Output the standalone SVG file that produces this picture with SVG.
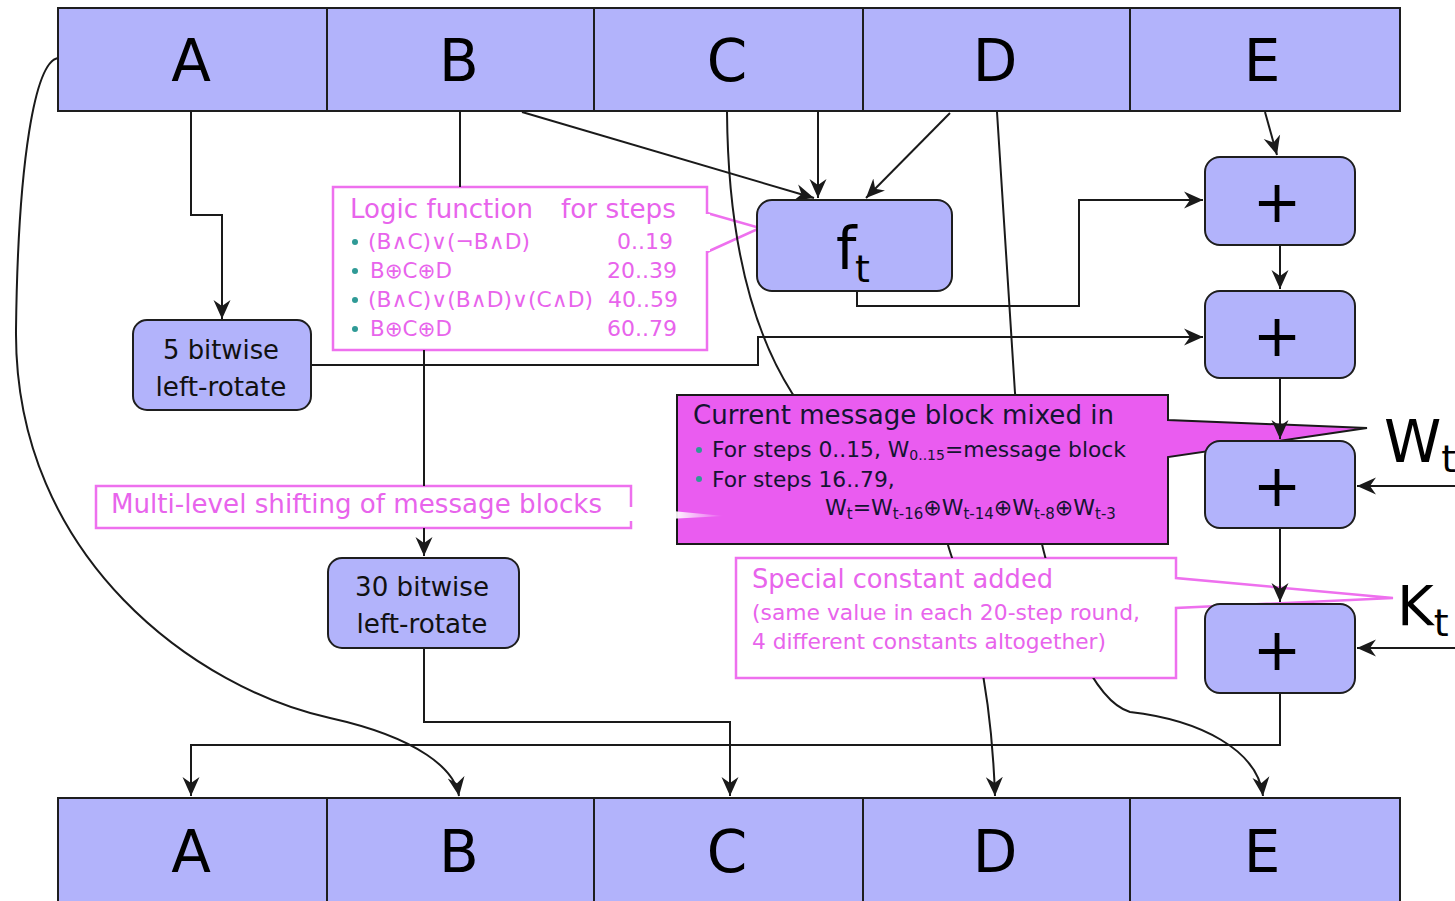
<svg xmlns="http://www.w3.org/2000/svg" width="1455" height="901" viewBox="0 0 1455 901">
<style>
.cell{fill:#b2b3fb;stroke:#1e1e1e;stroke-width:2}
.box{fill:#b2b3fb;stroke:#1e1e1e;stroke-width:2}
.big{font-family:"DejaVu Sans",Verdana,sans-serif;font-size:58px;fill:#000;text-anchor:middle}
.lbl{font-family:"DejaVu Sans",Verdana,sans-serif;font-size:26px;fill:#111;text-anchor:middle}
.mg{font-family:"DejaVu Sans",Verdana,sans-serif;fill:#e864ec}
.dk{font-family:"DejaVu Sans",Verdana,sans-serif;fill:#141432}
.call{fill:#fff;stroke:#ee70ee;stroke-width:2.5}
.conn{fill:none;stroke:#1a1a1a;stroke-width:2}
.dot{fill:#2f9a96}
</style>
<defs>
<marker id="ah" markerUnits="userSpaceOnUse" markerWidth="19" markerHeight="18" refX="19" refY="9" orient="auto">
<path d="M0,0.5 L19,9 L0,17.5 L6,9 Z" fill="#1a1a1a"/>
</marker>
<mask id="hide" maskUnits="userSpaceOnUse" x="0" y="0" width="1455" height="901">
<rect x="0" y="0" width="1455" height="901" fill="#fff"/>
<rect x="333" y="187" width="374" height="163" fill="#000"/>
<rect x="96" y="486" width="535" height="42" fill="#000"/>
<rect x="677" y="395" width="491" height="149" fill="#000"/>
<rect x="736" y="558" width="440" height="120" fill="#000"/>
</mask>
<linearGradient id="fade" x1="631" y1="0" x2="724" y2="0" gradientUnits="userSpaceOnUse">
<stop offset="0" stop-color="#fff" stop-opacity="1"/>
<stop offset="0.5" stop-color="#fff" stop-opacity="0.9"/>
<stop offset="1" stop-color="#fff" stop-opacity="0"/>
</linearGradient>
</defs>

<g id="top-register">
<g id="top-A"><rect class="cell" x="58" y="8" width="269" height="103"/><text class="big" x="191" y="81">A</text></g>
<g id="top-B"><rect class="cell" x="327" y="8" width="267" height="103"/><text class="big" x="459" y="81">B</text></g>
<g id="top-C"><rect class="cell" x="594" y="8" width="269" height="103"/><text class="big" x="727" y="81">C</text></g>
<g id="top-D"><rect class="cell" x="863" y="8" width="267" height="103"/><text class="big" x="995" y="81">D</text></g>
<g id="top-E"><rect class="cell" x="1130" y="8" width="270" height="103"/><text class="big" x="1262" y="81">E</text></g>
</g>
<g id="bottom-register">
<g id="bot-A"><rect class="cell" x="58" y="798" width="269" height="110"/><text class="big" x="191" y="872">A</text></g>
<g id="bot-B"><rect class="cell" x="327" y="798" width="267" height="110"/><text class="big" x="459" y="872">B</text></g>
<g id="bot-C"><rect class="cell" x="594" y="798" width="269" height="110"/><text class="big" x="727" y="872">C</text></g>
<g id="bot-D"><rect class="cell" x="863" y="798" width="267" height="110"/><text class="big" x="995" y="872">D</text></g>
<g id="bot-E"><rect class="cell" x="1130" y="798" width="270" height="110"/><text class="big" x="1262" y="872">E</text></g>
</g>

<g id="logic-callout">
<path class="call" d="M333,187 H707 V350 H333 Z"/>
<path class="call" d="M707,213 L760,228 L707,252" style="fill:none"/>
<rect x="704" y="214" width="6" height="37" fill="#fff"/>
<text class="mg" x="350" y="218" font-size="26" textLength="183" lengthAdjust="spacingAndGlyphs">Logic function</text>
<text class="mg" x="561" y="218" font-size="26" textLength="115" lengthAdjust="spacingAndGlyphs">for steps</text>
<circle class="dot" cx="355" cy="242" r="3"/>
<circle class="dot" cx="355" cy="271" r="3"/>
<circle class="dot" cx="355" cy="300" r="3"/>
<circle class="dot" cx="355" cy="329" r="3"/>
<text class="mg" x="368" y="249" font-size="21" textLength="162" lengthAdjust="spacingAndGlyphs">(B∧C)∨(¬B∧D)</text>
<text class="mg" x="370" y="278" font-size="21" textLength="82" lengthAdjust="spacingAndGlyphs">B⊕C⊕D</text>
<text class="mg" x="368" y="307" font-size="21" textLength="225" lengthAdjust="spacingAndGlyphs">(B∧C)∨(B∧D)∨(C∧D)</text>
<text class="mg" x="370" y="336" font-size="21" textLength="82" lengthAdjust="spacingAndGlyphs">B⊕C⊕D</text>
<text class="mg" x="673" y="249" font-size="22" text-anchor="end">0..19</text>
<text class="mg" x="677" y="278" font-size="22" text-anchor="end">20..39</text>
<text class="mg" x="678" y="307" font-size="22" text-anchor="end">40..59</text>
<text class="mg" x="677" y="336" font-size="22" text-anchor="end">60..79</text>
</g>

<g id="multi-callout">
<path class="call" d="M631,507 V486 H96 V528 H631 V521"/>
<text class="mg" x="111" y="513" font-size="26" textLength="491" lengthAdjust="spacingAndGlyphs">Multi-level shifting of message blocks</text>
</g>

<g id="message-callout">
<path d="M677,395 H1168 V420 L1367,428 L1168,457 V544 H677 Z" fill="#ea5cf0" stroke="#1a1a1a" stroke-width="2"/>
<text class="dk" x="693" y="424" font-size="26" textLength="421" lengthAdjust="spacingAndGlyphs">Current message block mixed in</text>
<circle class="dot" cx="699" cy="450" r="3"/>
<circle class="dot" cx="699" cy="479" r="3"/>
<text class="dk" x="712" y="457" font-size="21.8">For steps 0..15, W<tspan font-size="14" dy="3">0..15</tspan><tspan dy="-3">=message block</tspan></text>
<text class="dk" x="712" y="487" font-size="21.8">For steps 16..79,</text>
<text class="dk" x="825" y="515" font-size="22">W<tspan font-size="15" dy="4">t</tspan><tspan dy="-4">=W</tspan><tspan font-size="15" dy="4">t-16</tspan><tspan dy="-4">⊕W</tspan><tspan font-size="15" dy="4">t-14</tspan><tspan dy="-4">⊕W</tspan><tspan font-size="15" dy="4">t-8</tspan><tspan dy="-4">⊕W</tspan><tspan font-size="15" dy="4">t-3</tspan></text>
</g>
<path id="multi-pointer" d="M631,507 L724,516 L631,521 Z" fill="url(#fade)"/>

<g id="constant-callout">
<path class="call" d="M736,558 H1176 V578 L1393,598 L1176,608 V678 H736 Z"/>
<text class="mg" x="752" y="588" font-size="26" textLength="301" lengthAdjust="spacingAndGlyphs">Special constant added</text>
<text class="mg" x="752" y="620" font-size="22" textLength="388" lengthAdjust="spacingAndGlyphs">(same value in each 20-step round,</text>
<text class="mg" x="752" y="649" font-size="22" textLength="354" lengthAdjust="spacingAndGlyphs">4 different constants altogether)</text>
</g>

<g id="connectors">
<path class="conn" d="M191,111 V215 H222 V319" marker-end="url(#ah)"/>
<path class="conn" d="M311,365 H758 V337 H1203" marker-end="url(#ah)"/>
<path class="conn" d="M460,111 V270 H424 V556" marker-end="url(#ah)" mask="url(#hide)"/>
<path class="conn" d="M522,112 L814,198" marker-end="url(#ah)"/>
<path class="conn" d="M818,111 V198" marker-end="url(#ah)"/>
<path class="conn" d="M950,113 L866,198" marker-end="url(#ah)"/>
<path class="conn" d="M727,112 C728,240 752,330 792,393 C840,470 935,500 948,545 C958,580 990,650 995,796" marker-end="url(#ah)" mask="url(#hide)"/>
<path class="conn" d="M997,112 L1015,393 C1025,460 1035,520 1046,560 C1060,610 1090,700 1130,712 C1200,720 1258,750 1263,796" marker-end="url(#ah)" mask="url(#hide)"/>
<path class="conn" d="M1265,112 L1277,155" marker-end="url(#ah)"/>
<path class="conn" d="M857,291 V306 H1079 V200 H1203" marker-end="url(#ah)"/>
<path class="conn" d="M1280,245 V289" marker-end="url(#ah)"/>
<path class="conn" d="M1280,528 V602" marker-end="url(#ah)"/>
<path class="conn" d="M1280,693 V745 H191 V796" marker-end="url(#ah)"/>
<path class="conn" d="M424,648 V722 H730 V796" marker-end="url(#ah)"/>
<path class="conn" d="M58,58 C35,62 18,160 16,330 C14,560 200,690 330,718 C420,738 455,770 459,796" marker-end="url(#ah)"/>
<path class="conn" d="M1455,486 H1357" marker-end="url(#ah)"/>
<path class="conn" d="M1455,648 H1357" marker-end="url(#ah)"/>
</g>

<g id="rot5"><rect class="box" x="133" y="320" width="178" height="90" rx="14"/><text class="lbl" x="221" y="359" textLength="116" lengthAdjust="spacingAndGlyphs">5 bitwise</text><text class="lbl" x="221" y="396" textLength="131" lengthAdjust="spacingAndGlyphs">left-rotate</text></g>
<g id="rot30"><rect class="box" x="328" y="558" width="191" height="90" rx="14"/><text class="lbl" x="422" y="596" textLength="134" lengthAdjust="spacingAndGlyphs">30 bitwise</text><text class="lbl" x="422" y="633" textLength="131" lengthAdjust="spacingAndGlyphs">left-rotate</text></g>
<g id="ft"><rect class="box" x="757" y="200" width="195" height="91" rx="15"/><text class="dk" x="836" y="269" font-size="58" style="fill:#000">f</text><text class="dk" x="855" y="282" font-size="38" style="fill:#000">t</text></g>
<g id="plus1"><rect class="box" x="1205" y="157" width="150" height="88" rx="15"/><text class="big" x="1277" y="222">+</text></g>
<g id="plus2"><rect class="box" x="1205" y="291" width="150" height="87" rx="15"/><text class="big" x="1277" y="356">+</text></g>
<g id="plus3"><rect class="box" x="1205" y="441" width="150" height="87" rx="15"/><text class="big" x="1277" y="506">+</text></g>
<g id="plus4"><rect class="box" x="1205" y="604" width="150" height="89" rx="15"/><text class="big" x="1277" y="670">+</text></g>
<path id="plus2-to-plus3" class="conn" d="M1280,378 V439" marker-end="url(#ah)"/>

<g id="Wt"><text class="dk" x="1384" y="462" font-size="58" style="fill:#000">W<tspan font-size="38" dy="10">t</tspan></text></g>
<g id="Kt"><text class="dk" x="1397" y="625" font-size="56" style="fill:#000">K<tspan font-size="38" dy="11">t</tspan></text></g>
</svg>
